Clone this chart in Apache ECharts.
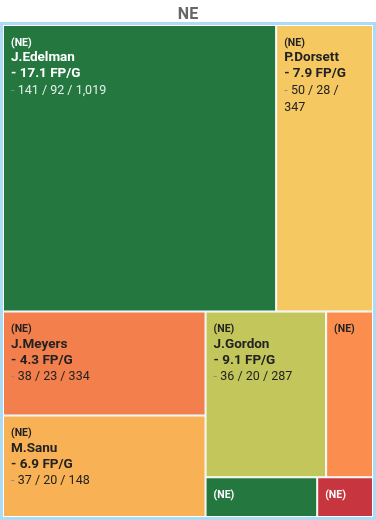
<!DOCTYPE html>
<html>
<head>
<meta charset="utf-8">
<script src="https://cdn.jsdelivr.net/npm/echarts@6/dist/echarts.min.js"></script>
<style>
html, body { margin: 0; padding: 0; background: #fff; }
#main { width: 376px; height: 520px; }
</style>
</head>
<body>
<div id="main"></div>
<script>
// data (value = targets)
var team = 'NE';
var players = ['J.Edelman', 'P.Dorsett', 'J.Meyers', 'M.Sanu', 'J.Gordon', '', '', ''];
var targets = [141, 50, 38, 37, 36, 14, 8, 4];
var receptions = [92, 28, 23, 20, 20, null, null, null];
var yards = [1019, 347, 334, 148, 287, null, null, null];
var fpg = [17.1, 7.9, 4.3, 6.9, 9.1, null, null, null];
var colors = ['#23773f', '#f5c862', '#f27f4c', '#f8b255', '#c3c65b', '#fb8e4e', '#23773f', '#c7353f'];
var darkBg = [true, false, false, false, false, false, true, true];

var font = 'Roboto, "Noto Sans", sans-serif';

function makeRich(dark) {
    var main = dark ? '#ffffff' : '#222222';
    return {
        t: { fontSize: 10.5, fontWeight: 'bold', color: main, lineHeight: 14, fontFamily: font },
        n: { fontSize: 13.5, fontWeight: 'bold', color: main, lineHeight: 16, fontFamily: font },
        f: { fontSize: 13.5, fontWeight: 'bold', color: main, lineHeight: 16, fontFamily: font },
        d: { fontSize: 12.5, color: '#8a8a8a', lineHeight: 17, fontFamily: font },
        s: { fontSize: 12.5, color: dark ? 'rgba(255,255,255,0.88)' : '#222222', lineHeight: 17, fontFamily: font }
    };
}

var data = [];
for (var i = 0; i < targets.length; i++) {
    data.push({
        name: players[i] || ('(' + team + ')'),
        value: targets[i],
        idx: i,
        itemStyle: { color: colors[i] },
        label: {
            show: true,
            position: 'insideTopLeft',
            padding: [10, 7, 0, 7],
            overflow: 'none',
            rich: makeRich(darkBg[i])
        }
    });
}

var chart = echarts.init(document.getElementById('main'));
chart.setOption({
    animation: false,
    title: {
        text: team,
        left: 'center',
        top: 2,
        textStyle: { fontSize: 16, fontWeight: 'bold', color: '#666', fontFamily: font }
    },
    series: [{
        type: 'treemap',
        left: 0,
        right: 0,
        top: 22,
        bottom: 0,
        roam: false,
        nodeClick: false,
        breadcrumb: { show: false },
        label: {
            show: true,
            formatter: function (p) {
                var i = p.data.idx;
                var s = '{t|(' + team + ')}';
                if (fpg[i] == null) return s;
                // narrow tile: stats wrap onto a second line
                var stats = targets[i] + ' / ' + receptions[i] + ' / ' + yards[i].toLocaleString('en-US');
                if (i === 1) stats = targets[i] + ' / ' + receptions[i] + ' /}\n{s|' + yards[i].toLocaleString('en-US');
                return s + '\n{n|' + players[i] + '}\n{f|- ' + fpg[i].toFixed(1) + ' FP/G}\n{d|-} {s|' + stats + '}';
            }
        },
        levels: [
            { itemStyle: { borderColor: '#abdcf3', borderWidth: 3, gapWidth: 0 } },
            { itemStyle: { borderColor: '#ffffff', borderWidth: 1, gapWidth: 0 } }
        ],
        data: data
    }]
});
</script>
</body>
</html>
